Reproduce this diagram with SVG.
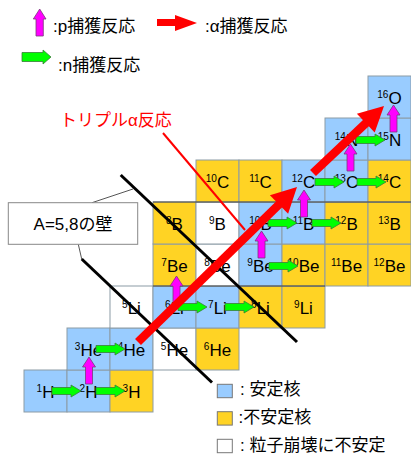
<svg xmlns="http://www.w3.org/2000/svg" xmlns:xlink="http://www.w3.org/1999/xlink" width="411" height="454" viewBox="0 0 411 454">
<style>
.blue{fill:#99CCFF}
.yel{fill:#FFD324}
.wht{fill:#FFFFFF}
.cell rect{stroke:#8C9BA5;stroke-width:1}
.el{font-family:"Liberation Sans",Arial,sans-serif;font-size:17px;text-anchor:middle;fill:#000}
.sup{font-size:10px}
.jp{font-family:"Liberation Sans","Noto Sans CJK JP",sans-serif;font-size:17px;fill:#000}
.ga{fill:#00FF00;stroke:#3A7D3A;stroke-width:0.8}
.ma{fill:#FF00FF;stroke:#7A3A7A;stroke-width:0.8}
.red{fill:#FF0000}
.wall{stroke:#000;stroke-width:3;stroke-linecap:butt}
.lead{stroke:#555;stroke-width:1;fill:none}
.leg rect{stroke:#777;stroke-width:1}
</style>
<defs>
<path id="g" d="M0,-3.5H19V-6L29,0L19,6V3.5H0Z"/>
<path id="m" d="M-3.5,0V-17H-6.5L0,-27L6.5,-17H3.5V0Z"/>
</defs>

<!-- legend top -->
<g id="legend-p">
<path class="ma" d="M36,36V19H33.3L39.7,9L46,19H43.3V36Z"/>
<text class="jp" x="53" y="32">:p捕獲反応</text>
</g>
<g id="legend-a">
<path class="red" d="M157,19H175V15L197,23L175,31V26H157Z"/>
<text class="jp" x="205" y="32">:α捕獲反応</text>
</g>
<g id="legend-n">
<path class="ga" d="M22,52.5H43V50L51,57L43,64V61.5H22Z"/>
<text class="jp" x="58" y="71">:n捕獲反応</text>
</g>

<!-- cells -->
<g id="H1" class="cell"><rect class="blue" x="24" y="370" width="43" height="42"/><text class="el" x="45.5" y="397.5"><tspan class="sup" dy="-6">1</tspan><tspan dy="6">H</tspan></text></g>
<g id="H2" class="cell"><rect class="blue" x="67" y="370" width="43" height="42"/><text class="el" x="88.5" y="397.5"><tspan class="sup" dy="-6">2</tspan><tspan dy="6">H</tspan></text></g>
<g id="H3" class="cell"><rect class="yel" x="110" y="370" width="43" height="42"/><text class="el" x="131.5" y="397.5"><tspan class="sup" dy="-6">3</tspan><tspan dy="6">H</tspan></text></g>

<g id="He3" class="cell"><rect class="blue" x="67" y="328" width="43" height="42"/><text class="el" x="88.5" y="355.5"><tspan class="sup" dy="-6">3</tspan><tspan dy="6">He</tspan></text></g>
<g id="He4" class="cell"><rect class="blue" x="110" y="328" width="43" height="42"/><text class="el" x="131.5" y="355.5"><tspan class="sup" dy="-6">4</tspan><tspan dy="6">He</tspan></text></g>
<g id="He5" class="cell"><rect class="wht" x="153" y="328" width="43" height="42"/><text class="el" x="174.5" y="355.5"><tspan class="sup" dy="-6">5</tspan><tspan dy="6">He</tspan></text></g>
<g id="He6" class="cell"><rect class="yel" x="196" y="328" width="43" height="42"/><text class="el" x="217.5" y="355.5"><tspan class="sup" dy="-6">6</tspan><tspan dy="6">He</tspan></text></g>

<g id="Li5" class="cell"><rect class="wht" x="110" y="286" width="43" height="42"/><text class="el" x="131.5" y="313.5"><tspan class="sup" dy="-6">5</tspan><tspan dy="6">Li</tspan></text></g>
<g id="Li6" class="cell"><rect class="blue" x="153" y="286" width="43" height="42"/><text class="el" x="174.5" y="313.5"><tspan class="sup" dy="-6">6</tspan><tspan dy="6">Li</tspan></text></g>
<g id="Li7" class="cell"><rect class="blue" x="196" y="286" width="43" height="42"/><text class="el" x="217.5" y="313.5"><tspan class="sup" dy="-6">7</tspan><tspan dy="6">Li</tspan></text></g>
<g id="Li8" class="cell"><rect class="yel" x="239" y="286" width="43" height="42"/><text class="el" x="260.5" y="313.5"><tspan class="sup" dy="-6">8</tspan><tspan dy="6">Li</tspan></text></g>
<g id="Li9" class="cell"><rect class="yel" x="282" y="286" width="43" height="42"/><text class="el" x="303.5" y="313.5"><tspan class="sup" dy="-6">9</tspan><tspan dy="6">Li</tspan></text></g>

<g id="Be7" class="cell"><rect class="yel" x="153" y="244" width="43" height="42"/><text class="el" x="174.5" y="271.5"><tspan class="sup" dy="-6">7</tspan><tspan dy="6">Be</tspan></text></g>
<g id="Be8" class="cell"><rect class="wht" x="196" y="244" width="43" height="42"/><text class="el" x="217.5" y="271.5"><tspan class="sup" dy="-6">8</tspan><tspan dy="6">Be</tspan></text></g>
<g id="Be9" class="cell"><rect class="blue" x="239" y="244" width="43" height="42"/><text class="el" x="260.5" y="271.5"><tspan class="sup" dy="-6">9</tspan><tspan dy="6">Be</tspan></text></g>
<g id="Be10" class="cell"><rect class="yel" x="282" y="244" width="43" height="42"/><text class="el" x="303.5" y="271.5"><tspan class="sup" dy="-6">10</tspan><tspan dy="6">Be</tspan></text></g>
<g id="Be11" class="cell"><rect class="yel" x="325" y="244" width="43" height="42"/><text class="el" x="346.5" y="271.5"><tspan class="sup" dy="-6">11</tspan><tspan dy="6">Be</tspan></text></g>
<g id="Be12" class="cell"><rect class="yel" x="368" y="244" width="43" height="42"/><text class="el" x="389.5" y="271.5"><tspan class="sup" dy="-6">12</tspan><tspan dy="6">Be</tspan></text></g>

<g id="B8" class="cell"><rect class="yel" x="153" y="202" width="43" height="42"/><text class="el" x="174.5" y="229.5"><tspan class="sup" dy="-6">8</tspan><tspan dy="6">B</tspan></text></g>
<g id="B9" class="cell"><rect class="wht" x="196" y="202" width="43" height="42"/><text class="el" x="217.5" y="229.5"><tspan class="sup" dy="-6">9</tspan><tspan dy="6">B</tspan></text></g>
<g id="B10" class="cell"><rect class="blue" x="239" y="202" width="43" height="42"/><text class="el" x="260.5" y="229.5"><tspan class="sup" dy="-6">10</tspan><tspan dy="6">B</tspan></text></g>
<g id="B11" class="cell"><rect class="blue" x="282" y="202" width="43" height="42"/><text class="el" x="303.5" y="229.5"><tspan class="sup" dy="-6">11</tspan><tspan dy="6">B</tspan></text></g>
<g id="B12" class="cell"><rect class="yel" x="325" y="202" width="43" height="42"/><text class="el" x="346.5" y="229.5"><tspan class="sup" dy="-6">12</tspan><tspan dy="6">B</tspan></text></g>
<g id="B13" class="cell"><rect class="yel" x="368" y="202" width="43" height="42"/><text class="el" x="389.5" y="229.5"><tspan class="sup" dy="-6">13</tspan><tspan dy="6">B</tspan></text></g>

<g id="C10" class="cell"><rect class="yel" x="196" y="160" width="43" height="42"/><text class="el" x="217.5" y="187.5"><tspan class="sup" dy="-6">10</tspan><tspan dy="6">C</tspan></text></g>
<g id="C11" class="cell"><rect class="yel" x="239" y="160" width="43" height="42"/><text class="el" x="260.5" y="187.5"><tspan class="sup" dy="-6">11</tspan><tspan dy="6">C</tspan></text></g>
<g id="C12" class="cell"><rect class="blue" x="282" y="160" width="43" height="42"/><text class="el" x="303.5" y="187.5"><tspan class="sup" dy="-6">12</tspan><tspan dy="6">C</tspan></text></g>
<g id="C13" class="cell"><rect class="blue" x="325" y="160" width="43" height="42"/><text class="el" x="346.5" y="187.5"><tspan class="sup" dy="-6">13</tspan><tspan dy="6">C</tspan></text></g>
<g id="C14" class="cell"><rect class="yel" x="368" y="160" width="43" height="42"/><text class="el" x="389.5" y="187.5"><tspan class="sup" dy="-6">14</tspan><tspan dy="6">C</tspan></text></g>

<g id="N14" class="cell"><rect class="blue" x="325" y="118" width="43" height="42"/><text class="el" x="346.5" y="145.5"><tspan class="sup" dy="-6">14</tspan><tspan dy="6">N</tspan></text></g>
<g id="N15" class="cell"><rect class="blue" x="368" y="118" width="43" height="42"/><text class="el" x="389.5" y="145.5"><tspan class="sup" dy="-6">15</tspan><tspan dy="6">N</tspan></text></g>

<g id="O16" class="cell"><rect class="blue" x="368" y="76" width="43" height="42"/><text class="el" x="389.5" y="103.5"><tspan class="sup" dy="-6">16</tspan><tspan dy="6">O</tspan></text></g>

<g id="rowlines" stroke="#444" stroke-width="1">
<line x1="153" y1="202" x2="411" y2="202"/>
<line x1="153" y1="286" x2="325" y2="286"/>
</g>

<!-- A=5,8 wall -->
<g id="walls">
<line class="wall" x1="120.7" y1="175" x2="297" y2="342"/>
<line class="wall" x1="81.7" y1="259" x2="212" y2="382.5"/>
</g>
<g id="wall-label">
<line class="lead" x1="92" y1="202.7" x2="133" y2="189"/>
<line class="lead" x1="78.3" y1="244.3" x2="81.7" y2="259"/>
<rect x="8.3" y="202.7" width="129.4" height="41.6" fill="#fff" stroke="#888" stroke-width="1"/>
<text class="jp" x="73" y="230" text-anchor="middle">A=5,8の壁</text>
</g>

<!-- connectors -->
<g id="connectors">
<g id="n-capture" class="ga">
<use xlink:href="#g" x="52" y="391"/>
<use xlink:href="#g" x="96" y="391"/>
<use xlink:href="#g" x="96" y="349"/>
<use xlink:href="#g" x="178" y="307"/>
<use xlink:href="#g" x="225" y="307"/>
<use xlink:href="#g" x="269" y="266"/>
<use xlink:href="#g" x="268" y="223"/>
<use xlink:href="#g" x="312" y="223"/>
<use xlink:href="#g" x="315" y="182"/>
<use xlink:href="#g" x="357" y="182"/>
<use xlink:href="#g" x="356" y="140"/>
</g>
<g id="p-capture" class="ma">
<use xlink:href="#m" x="89" y="384"/>
<use xlink:href="#m" x="176.5" y="303"/>
<use xlink:href="#m" x="261.5" y="258"/>
<use xlink:href="#m" x="304" y="217"/>
<use xlink:href="#m" x="350.5" y="171"/>
<use xlink:href="#m" x="393.5" y="132"/>
</g>
<g id="label-line">
<line x1="163" y1="133" x2="245" y2="230" stroke="#FF0000" stroke-width="2"/>
</g>
<g id="alpha-capture">
<line x1="138" y1="342" x2="281" y2="202.5" stroke="#FF0000" stroke-width="8.5"/>
<polygon class="red" points="297,187 288.1,213.8 269.9,195.2"/>
<line x1="313" y1="173" x2="367.5" y2="121.6" stroke="#FF0000" stroke-width="8.5"/>
<polygon class="red" points="384,106 374.7,132.6 356.9,113.8"/>
</g>
</g>

<g id="triple-alpha-label">
<text class="jp" x="60" y="126" fill="#FF0000" style="fill:#FF0000">トリプルα反応</text>
</g>

<!-- legend bottom -->
<g id="legend-stable" class="leg">
<rect class="blue" x="217.3" y="384.3" width="15" height="13.4"/>
<text class="jp" x="240" y="395">: 安定核</text>
</g>
<g id="legend-unstable" class="leg">
<rect class="yel" x="217.3" y="411.7" width="15" height="13.4"/>
<text class="jp" x="238.5" y="423">:不安定核</text>
</g>
<g id="legend-particle" class="leg">
<rect class="wht" x="217.3" y="439.3" width="15" height="13.4"/>
<text class="jp" x="240" y="451">: 粒子崩壊に不安定</text>
</g>
</svg>
